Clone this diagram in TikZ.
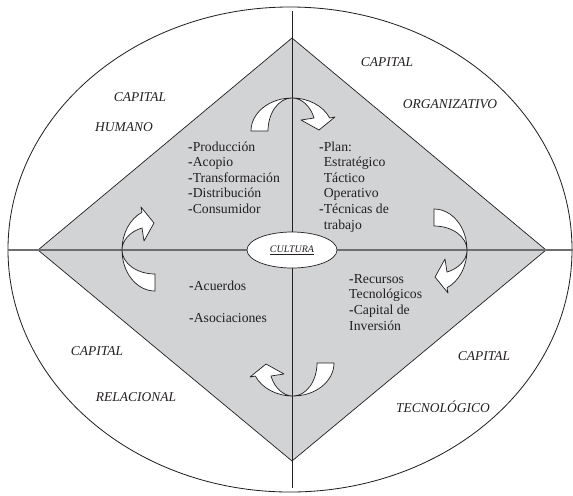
\documentclass[tikz,border=0pt]{standalone}
\usepackage{fontspec}
\setmainfont{Liberation Serif}
\usepackage{xcolor}
\usepackage{tikz}
\usetikzlibrary{calc,shapes.geometric}
\definecolor{rombogris}{HTML}{D1D3D4}
\definecolor{ejegris}{HTML}{6D6E70}
\definecolor{trazo}{HTML}{231F20}
\newcommand{\guion}{\textbf{-}}
\tikzset{
  borde/.style={draw=trazo, line width=0.7pt},
  rombo/.style={fill=rombogris, draw=trazo, line width=0.6pt, line join=miter},
  ejeh/.style={draw=ejegris, line width=0.9pt},
  ejev/.style={draw=trazo, line width=0.6pt},
  flecha/.style={fill=white, draw=trazo, line width=0.6pt, line join=round},
  capital/.style={font=\fontsize{11.5}{13}\selectfont\itshape, text=trazo, inner sep=0pt},
  % anclado en la linea base de la ultima fila
  lista/.style={font=\fontsize{11.7}{13.3}\selectfont, text=trazo, align=left, anchor=base west, inner sep=0pt},
  nucleo/.style={ellipse, fill=white, draw=trazo, line width=0.6pt, minimum width=2.7cm, minimum height=1.08cm, inner sep=0pt},
  giro/.pic={
    \draw[flecha] (-41,33) arc[start angle=180, end angle=270, x radius=41, y radius=33]
      arc[start angle=270, end angle=336.8, x radius=41, y radius=33]
      -- (43,19) -- (27,32) -- (9,22) -- (22.06,20)
      arc[start angle=336.8, end angle=270, x radius=24, y radius=33]
      arc[start angle=270, end angle=180, x radius=24, y radius=33] -- cycle;
  }
}

\begin{document}
\begin{tikzpicture}[x=0.03cm, y=-0.03cm]
  \useasboundingbox (0,0) rectangle (573,495);
  \coordinate (N) at (292,38);
  \coordinate (E) at (546,250);
  \coordinate (S) at (292,461);
  \coordinate (W) at (38,250);
  \coordinate (C) at (292,250);

  % contorno y rombo
  \draw[borde] (290,249.5) ellipse [x radius=282, y radius=242.5];
  \draw[rombo] (N) -- (E) -- (S) -- (W) -- cycle;
  \draw[ejeh] (8,250) -- (573,250);
  \draw[ejev] (292,11) -- (292,488);

  \node[nucleo] (cultura) at (C) {};
  \node[font=\fontsize{8.5}{10}\selectfont\itshape, text=trazo] (cultxt) at (cultura) {\underline{CULTURA}};

  % flechas de giro
  \pic at (292,98) {giro};
  \pic[rotate=-90] at (467,250) {giro};
  \pic[rotate=180] at (293,396) {giro};
  \pic[rotate=90] at (122,250) {giro};

  % capitales
  \node[capital] (hum1) at (140,97) {CAPITAL};
  \node[capital] (hum2) at (124,127) {HUMANO};
  \node[capital] (org1) at (387,62) {CAPITAL};
  \node[capital] (org2) at (450,104) {ORGANIZATIVO};
  \node[capital] (rel1) at (97,351) {CAPITAL};
  \node[capital] (rel2) at (136,397) {RELACIONAL};
  \node[capital] (tec1) at (484,356) {CAPITAL};
  \node[capital] (tec2) at (443,407) {TECNOLÓGICO};

  % contenidos de cada cuadrante
  \node[lista] (cadena) at (188,213.4) {\guion Producción\\\guion Acopio\\\guion Transformación\\\guion Distribución\\\guion Consumidor};
  \node[lista] (plan) at (319,229) {\guion Plan:\\\phantom{\guion}Estratégico\\\phantom{\guion}Táctico\\\phantom{\guion}Operativo\\\guion Técnicas de\\\phantom{\guion}trabajo};
  \node[lista] (acuerdos) at (189,322) {\guion Acuerdos\\[13.3pt]\guion Asociaciones};
  \node[lista] (recursos) at (349,330) {\guion Recursos\\Tecnológicos\\\guion Capital de\\Inversión};
\end{tikzpicture}
\end{document}
